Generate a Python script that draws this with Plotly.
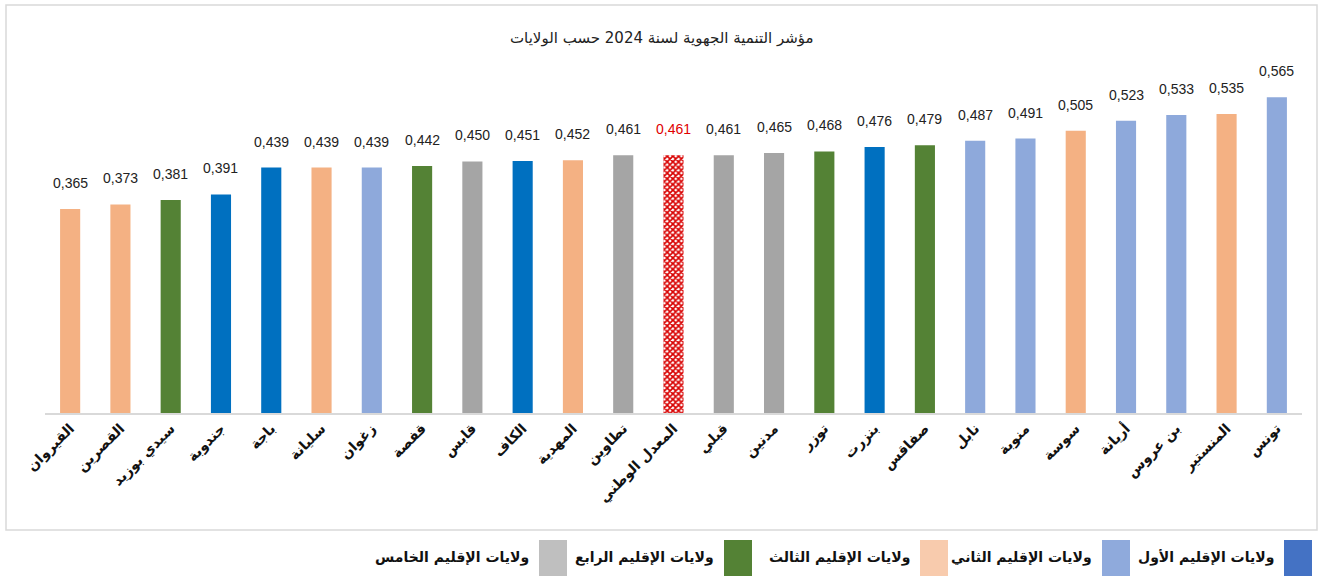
import plotly.graph_objects as go

W, H = 1319, 576
ML, MR, MT = 45, 17, 60
MB = H - 413

categories = ["القيروان", "القصرين", "سيدي بوزيد", "جندوبة", "باجة", "سليانة", "زغوان",
              "قفصة", "قابس", "الكاف", "المهدية", "تطاوين", "المعدل الوطني", "قبلي",
              "مدنين", "توزر", "بنزرت", "صفاقس", "نابل", "منوبة", "سوسة", "أريانة",
              "بن عروس", "المنستير", "تونس"]
values = [0.365, 0.373, 0.381, 0.391, 0.439, 0.439, 0.439, 0.442, 0.450, 0.451, 0.452,
          0.461, 0.461, 0.461, 0.465, 0.468, 0.476, 0.479, 0.487, 0.491, 0.505, 0.523,
          0.533, 0.535, 0.565]
groups = ["peach", "peach", "green", "blue", "blue", "peach", "lblue", "green", "gray",
          "blue", "peach", "gray", "avg", "gray", "gray", "green", "blue", "green",
          "lblue", "lblue", "peach", "lblue", "lblue", "peach", "lblue"]
title = "مؤشر التنمية الجهوية لسنة 2024 حسب الولايات"
legend_labels = ["ولايات الإقليم الأول", "ولايات الإقليم الثاني", "ولايات الإقليم الثالث",
                 "ولايات الإقليم الرابع", "ولايات الإقليم الخامس"]
legend_colors = ["#4472C4", "#8FAADC", "#F8CBAD", "#548235", "#BFBFBF"]

bar_colors = {"peach": "#F4B183", "green": "#548235", "blue": "#0070C0",
              "lblue": "#8EA9DB", "gray": "#A5A5A5", "avg": "#D80000"}

colors = [bar_colors[g] for g in groups]
shapes_p = ["x" if g == "avg" else "" for g in groups]
texts = [f"{v:.3f}".replace(".", ",") for v in values]
text_colors = ["#E00000" if g == "avg" else "#222222" for g in groups]

PX_PER_UNIT = 559.0
plot_h = H - MT - MB
plot_w = W - ML - MR
ymax = plot_h / PX_PER_UNIT

def px_x(px):
    return (px - ML) / plot_w

def px_y(py):
    return (H - MB - py) / plot_h

fig = go.Figure()
fig.add_trace(go.Bar(
    x=categories, y=values,
    marker=dict(color=colors, line=dict(width=0),
                pattern=dict(shape=shapes_p, fgcolor="#FFFFFF", size=4, solidity=0.65,
                             fillmode="replace")),
    showlegend=False, hoverinfo="x+y",
))

annotations = []
for c, v, t, tc in zip(categories, values, texts, text_colors):
    annotations.append(dict(x=c, y=v, text=t, showarrow=False, yanchor="middle",
                            yshift=26, font=dict(family="Liberation Sans Narrow, Arial Narrow, Liberation Sans, Arial",
                                                 size=14, color=tc)))

annotations.append(dict(x=px_x(662), y=px_y(38), xref="paper", yref="paper",
                        text=title, showarrow=False, xanchor="center", yanchor="middle",
                        font=dict(family="DejaVu Sans, Arial", size=15, color="#222222")))

shapes = [dict(type="rect", xref="paper", yref="paper",
               x0=px_x(6), x1=px_x(1317), y0=px_y(530), y1=px_y(5),
               line=dict(color="#D9D9D9", width=1.5), fillcolor="rgba(0,0,0,0)", layer="below")]

# custom RTL legend: box on the right of each label
box_right = [1312, 1130, 948, 752, 567]
for lab, col, br in zip(legend_labels, legend_colors, box_right):
    shapes.append(dict(type="rect", xref="paper", yref="paper",
                       x0=px_x(br - 28), x1=px_x(br), y0=px_y(576), y1=px_y(540),
                       line=dict(width=0), fillcolor=col))
    annotations.append(dict(x=px_x(br - 36), y=px_y(557), xref="paper", yref="paper",
                            text=f"<b>{lab}</b>", showarrow=False, xanchor="right",
                            yanchor="middle",
                            font=dict(family="DejaVu Sans, Arial", size=14, color="#111111")))

fig.update_layout(
    width=W, height=H,
    margin=dict(l=ML, r=MR, t=MT, b=MB, autoexpand=False),
    paper_bgcolor="white", plot_bgcolor="white",
    bargap=0.6,
    annotations=annotations, shapes=shapes,
    xaxis=dict(showline=True, linecolor="#D9D9D9", linewidth=1.5, ticks="",
               tickangle=-45, showgrid=False,
               tickfont=dict(family="DejaVu Sans, Arial", size=14, color="#111111", weight="bold")),
    yaxis=dict(range=[0, ymax], visible=False, showgrid=False, zeroline=False),
)

fig.write_html("out.html", config={"displayModeBar": False},
               post_script="document.body.style.margin='0';document.body.style.overflow='hidden';")
